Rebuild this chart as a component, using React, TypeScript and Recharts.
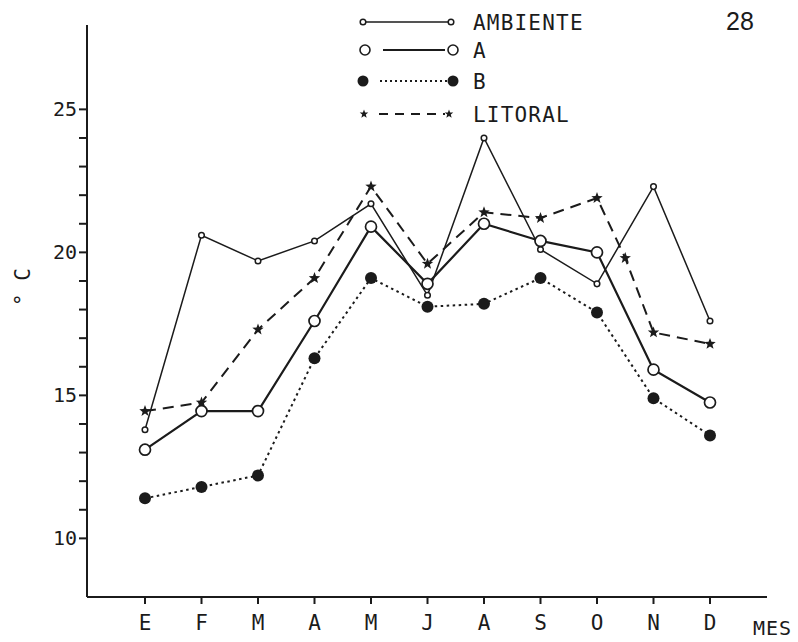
import { Label, Legend, Line, LineChart, XAxis, YAxis } from "recharts";

// meses (E..D), en °C
const months = ["E", "F", "M", "A", "M", "J", "A", "S", "O", "N", "D"];
const ambiente = [13.8, 20.6, 19.7, 20.4, 21.7, 18.5, 24.0, 20.1, 18.9, 22.3, 17.6];
const serieA = [13.1, 14.45, 14.45, 17.6, 20.9, 18.9, 21.0, 20.4, 20.0, 15.9, 14.75];
const serieB = [11.4, 11.8, 12.2, 16.3, 19.1, 18.1, 18.2, 19.1, 17.9, 14.9, 13.6];
const litoral = [14.45, 14.75, 17.3, 19.1, 22.3, 19.6, 21.4, 21.2, 21.9, 17.2, 16.8];
// estrella suelta dibujada sobre la línea del litoral entre O y N
const litoralExtraPos = 8.5;
const litoralExtraValue = 19.8;

const yTicks = [10, 11, 12, 13, 14, 15, 16, 17, 18, 19, 20, 21, 22, 23, 24, 25];
const xTicks = months.map((_, i) => i);

const rows = months.map((m, i) => ({
  x: i,
  month: m,
  ambiente: ambiente[i],
  a: serieA[i],
  b: serieB[i],
}));

const litoralRows = [
  ...litoral.map((v, i) => ({ x: i, litoral: v })),
  { x: litoralExtraPos, litoral: litoralExtraValue },
].sort((p, q) => p.x - q.x);

const INK = "#1b1b1b";
const MONO = "'DejaVu Sans Mono', monospace";

function starPath(cx: number, cy: number, r: number) {
  const pts: string[] = [];
  for (let k = 0; k < 10; k++) {
    const rad = k % 2 === 0 ? r : r * 0.42;
    const ang = -Math.PI / 2 + (k * Math.PI) / 5;
    pts.push(`${cx + rad * Math.cos(ang)},${cy + rad * Math.sin(ang)}`);
  }
  return `M${pts.join("L")}Z`;
}

const StarDot = (props: any) => {
  const { cx, cy, index } = props;
  if (cx == null || cy == null) return null;
  return <path key={`st-${index}`} d={starPath(cx, cy, 6)} fill={INK} />;
};

function LegendBox() {
  const rows = [
    { label: "AMBIENTE", y: 22, kind: "amb" },
    { label: "A", y: 50, kind: "a" },
    { label: "B", y: 81, kind: "b" },
    { label: "LITORAL", y: 114, kind: "lit" },
  ];
  return (
    <svg width={260} height={135} style={{ display: "block" }}>
      {rows.map((r) => {
        const y = r.y;
        const x0 = 23;
        const x1 = 111;
        let mark;
        if (r.kind === "amb") {
          mark = (
            <g>
              <line x1={x0 + 3} y1={y} x2={x1 - 3} y2={y} stroke={INK} strokeWidth={1.4} />
              <circle cx={x0} cy={y} r={2.8} fill="#fff" stroke={INK} strokeWidth={1.5} />
              <circle cx={x1} cy={y} r={2.8} fill="#fff" stroke={INK} strokeWidth={1.5} />
            </g>
          );
        } else if (r.kind === "a") {
          mark = (
            <g>
              <line x1={x0 + 20} y1={y} x2={x1 - 6} y2={y} stroke={INK} strokeWidth={2} />
              <circle cx={x0 + 2} cy={y} r={5} fill="#fff" stroke={INK} strokeWidth={1.6} />
              <circle cx={x1 + 2} cy={y} r={5} fill="#fff" stroke={INK} strokeWidth={1.6} />
            </g>
          );
        } else if (r.kind === "b") {
          mark = (
            <g>
              <line x1={x0 + 17} y1={y} x2={x1 - 4} y2={y} stroke={INK} strokeWidth={1.8} strokeDasharray="2 3" />
              <circle cx={x0} cy={y} r={5.5} fill={INK} />
              <circle cx={x1 + 2} cy={y} r={5.5} fill={INK} />
            </g>
          );
        } else {
          mark = (
            <g>
              <line x1={x0 + 16} y1={y} x2={x1 - 6} y2={y} stroke={INK} strokeWidth={1.8} strokeDasharray="9 7" />
              <path d={starPath(x0 + 1, y, 4.5)} fill={INK} />
              <path d={starPath(x1 - 2, y, 4.5)} fill={INK} />
            </g>
          );
        }
        return (
          <g key={r.label}>
            {mark}
            <text
              x={133}
              y={y}
              dy="0.36em"
              fontFamily={MONO}
              fontSize={21}
              letterSpacing={1.2}
              fill={INK}
            >
              {r.label}
            </text>
          </g>
        );
      })}
    </svg>
  );
}

export default function App() {
  return (
    <div style={{ position: "absolute", left: 0, top: 0, width: 798, height: 642, background: "#fff" }}>
      <LineChart
        width={798}
        height={642}
        data={rows}
        margin={{ top: 25, right: 31, left: 0, bottom: 0 }}
      >
        <XAxis
          dataKey="x"
          type="number"
          domain={[0, 10]}
          ticks={xTicks}
          padding={{ left: 58, right: 57 }}
          tickFormatter={(v: number) => months[v] ?? ""}
          height={45}
          tickSize={7}
          tickMargin={11}
          stroke={INK}
          strokeWidth={2}
          tick={{ fill: INK, fontSize: 21, fontFamily: MONO }}
          interval={0}
        >
          <Label
            content={({ viewBox }: any) => (
              <text
                x={viewBox.x + viewBox.width - 14}
                y={viewBox.y + 38}
                fontFamily={MONO}
                fontSize={20}
                letterSpacing={1}
                fill={INK}
              >
                MES
              </text>
            )}
          />
        </XAxis>
        <YAxis
          type="number"
          domain={[7.95, 27.95]}
          ticks={yTicks}
          allowDataOverflow
          width={87}
          tickSize={8}
          tickMargin={2}
          stroke={INK}
          strokeWidth={2}
          tickFormatter={(v: number) => (v % 5 === 0 ? String(v) : "")}
          tick={{ fill: INK, fontSize: 20, fontFamily: MONO }}
          interval={0}
        >
          <Label
            content={() => (
              <text
                x={22}
                y={287}
                transform="rotate(-90 22 287)"
                textAnchor="middle"
                dy="0.36em"
                fontFamily={MONO}
                fontSize={21}
                fill={INK}
              >
                ° C
              </text>
            )}
          />
        </YAxis>
        <Legend
          layout="horizontal"
          verticalAlign="middle"
          align="center"
          wrapperStyle={{ position: "absolute", left: 340, top: 0, width: 260, height: 135 }}
          content={() => <LegendBox />}
        />
        <Line
          dataKey="ambiente"
          stroke={INK}
          strokeWidth={1.5}
          dot={{ r: 2.8, fill: "#fff", stroke: INK, strokeWidth: 1.5 }}
          activeDot={false}
          isAnimationActive={false}
        />
        <Line
          dataKey="a"
          stroke={INK}
          strokeWidth={2.2}
          dot={{ r: 5.5, fill: "#fff", stroke: INK, strokeWidth: 1.7 }}
          activeDot={false}
          isAnimationActive={false}
        />
        <Line
          dataKey="b"
          stroke={INK}
          strokeWidth={2}
          strokeDasharray="2.5 3.5"
          dot={{ r: 6, fill: INK, stroke: INK, strokeWidth: 0 }}
          activeDot={false}
          isAnimationActive={false}
        />
        <Line
          data={litoralRows}
          dataKey="litoral"
          stroke={INK}
          strokeWidth={2}
          strokeDasharray="11 7"
          dot={<StarDot />}
          activeDot={false}
          isAnimationActive={false}
        />
      </LineChart>
      <div
        style={{
          position: "absolute",
          left: 726,
          top: 6,
          fontFamily: "'Liberation Sans', Arial, sans-serif",
          fontSize: 25,
          color: INK,
          lineHeight: "30px",
        }}
      >
        28
      </div>
    </div>
  );
}
